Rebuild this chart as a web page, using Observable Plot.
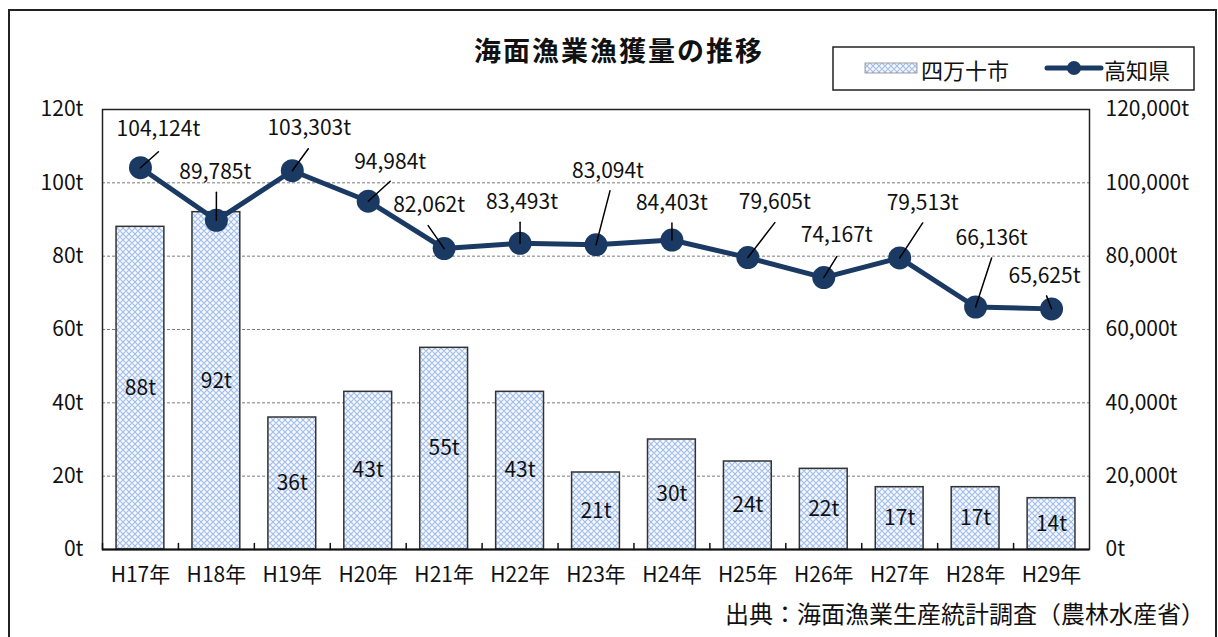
<!DOCTYPE html>
<html lang="ja">
<head>
<meta charset="utf-8">
<script src="https://cdn.jsdelivr.net/npm/d3@7"></script>
<script src="https://cdn.jsdelivr.net/npm/@observablehq/plot@0.6"></script>
<style>
  html, body { margin: 0; padding: 0; background: #fff; }
  body { width: 1218px; height: 637px; position: relative; overflow: hidden;
         font-family: "Noto Sans CJK JP", "Noto Sans", sans-serif; color: #111; }
  #outer { position: absolute; left: 8px; top: 9px; width: 1205px; height: 660px;
           border: 2px solid #222; box-sizing: content-box; }
  #chart { position: absolute; left: 0; top: 0; }
  #title { position: absolute; left: 419px; width: 400px; top: 35px; text-align: center;
           font-size: 27px; font-weight: bold; line-height: 30px; letter-spacing: 2px; }
  #legend { position: absolute; left: 0; top: 0; }
  #caption { position: absolute; left: 0; width: 1205px; top: 600px; text-align: right;
             font-size: 24px; line-height: 26px; }
</style>
</head>
<body>
<div id="outer"></div>
<div id="chart"></div>
<div id="title"></div>
<svg id="legend" width="1218" height="110"></svg>
<div id="caption"></div>
<script>
// ---- data ----
const chartTitle = "海面漁業漁獲量の推移";
const captionText = "出典：海面漁業生産統計調査（農林水産省）";
const seriesNames = ["四万十市", "高知県"];
const categories = ["H17年","H18年","H19年","H20年","H21年","H22年","H23年","H24年","H25年","H26年","H27年","H28年","H29年"];
const shimanto = [88, 92, 36, 43, 55, 43, 21, 30, 24, 22, 17, 17, 14];          // t (left axis)
const kochi = [104124, 89785, 103303, 94984, 82062, 83493, 83094, 84403, 79605, 74167, 79513, 66136, 65625]; // t (right axis)
const leftTicks = [0, 20, 40, 60, 80, 100, 120];
const gridTicks = [20, 40, 60, 80, 100];
const rightScaleFactor = 1000; // right axis = left axis × 1000

// ---- label layout (pixel offsets from each 高知県 point) ----
const leaderEnd = [[18,-16],[0,-28],[16,-22],[22,-20],[-16,-23],[0,-21],[14,-54],[0,-17],[27,-35],[13,-21],[23,-35],[16,-49],[-5,-13]];
const labelPos  = [[18,-38],[-1,-48],[17,-42],[22,-39],[-15,-43],[2,-41],[12,-74],[0,-37],[27,-55],[13,-42],[23,-55],[16,-69],[-7,-33]];

const data = categories.map((cat, i) => ({cat, shimanto: shimanto[i], kochi: kochi[i]}));

const W = 1218, H = 637;
const M = {top: 109, right: 129, bottom: 88, left: 102};
const step = (W - M.left - M.right) / categories.length;
const navy = "#1b3a63";
const fmt = d3.format(",");
const lineShape = { draw(context, l) { context.moveTo(0, 0); context.lineTo(0, -l); } };

const marks = [
  Plot.ruleY(gridTicks, {stroke: "#7a7a7a", strokeWidth: 1, strokeDasharray: "3,2"}),
  Plot.barY(data, {x: "cat", y: "shimanto", fill: "url(#barPat)", stroke: "#333", strokeWidth: 1.5}),
  Plot.text(data, {x: "cat", y: d => d.shimanto / 2, text: d => d.shimanto + "t", fontSize: 21, fill: "#111"}),
  Plot.frame({stroke: "#222", strokeWidth: 1.5}),
  Plot.ruleY([0], {stroke: "#111", strokeWidth: 2}),
  Plot.vector(data, {x: "cat", y: () => 0, length: 6, rotate: 0, anchor: "start", dx: -step / 2,
                     shape: lineShape, stroke: "#111", strokeWidth: 1.5}),
  Plot.axisY({anchor: "left", ticks: leftTicks, tickFormat: d => d + "t", tickSize: 0, tickPadding: 19, fontSize: 21}),
  Plot.axisY({anchor: "right", ticks: leftTicks, tickFormat: d => fmt(d * rightScaleFactor) + "t", tickSize: 0, tickPadding: 16, fontSize: 21}),
  Plot.axisX({tickSize: 0, tickPadding: 18, fontSize: 21}),
  Plot.line(data, {x: "cat", y: d => d.kochi / rightScaleFactor, stroke: navy, strokeWidth: 5}),
  Plot.dot(data, {x: "cat", y: d => d.kochi / rightScaleFactor, r: 11.5, fill: navy, stroke: "none"})
];
data.forEach((d, i) => {
  const [ex, ey] = leaderEnd[i];
  const [lx, ly] = labelPos[i];
  marks.push(Plot.vector([d], {x: "cat", y: v => v.kochi / rightScaleFactor,
    length: Math.hypot(ex, ey), rotate: Math.atan2(ex, -ey) * 180 / Math.PI, anchor: "start",
    shape: lineShape, stroke: "#000", strokeWidth: 1.5}));
  marks.push(Plot.text([d], {x: "cat", y: v => v.kochi / rightScaleFactor, text: v => fmt(v.kochi) + "t",
    dx: lx, dy: ly, fontSize: 21, fill: "#111"}));
});

const chart = Plot.plot({
  width: W, height: H,
  marginTop: M.top, marginRight: M.right, marginBottom: M.bottom, marginLeft: M.left,
  style: {fontFamily: '"Noto Sans CJK JP", sans-serif', fontSize: "21px", color: "#111", background: "transparent", overflow: "visible"},
  x: {type: "band", domain: categories, paddingInner: 0.37, paddingOuter: 0.185, round: false, label: null},
  y: {domain: [0, 120], label: null},
  marks
});

function addPattern(svgSel, id) {
  const p = svgSel.insert("defs", ":first-child").append("pattern")
    .attr("id", id).attr("patternUnits", "userSpaceOnUse").attr("width", 6).attr("height", 6);
  p.append("rect").attr("width", 6).attr("height", 6).attr("fill", "#f7f9fd");
  p.append("path").attr("d", "M3,0L6,3L3,6L0,3Z").attr("fill", "none").attr("stroke", "#a3bfeb").attr("stroke-width", 1.1);
}
addPattern(d3.select(chart), "barPat");
document.getElementById("chart").appendChild(chart);

document.getElementById("title").textContent = chartTitle;
document.getElementById("caption").textContent = captionText;

// legend
const lg = d3.select("#legend");
addPattern(lg, "legPat");
lg.append("rect").attr("x", 833).attr("y", 47).attr("width", 361).attr("height", 43)
  .attr("fill", "#fff").attr("stroke", "#222").attr("stroke-width", 1.5);
lg.append("rect").attr("x", 865).attr("y", 63).attr("width", 52).attr("height", 10)
  .attr("fill", "url(#legPat)").attr("stroke", "#888").attr("stroke-width", 0.8);
lg.append("text").attr("x", 921).attr("y", 69).attr("dominant-baseline", "central")
  .attr("font-size", 22).attr("fill", "#111").text(seriesNames[0]);
lg.append("line").attr("x1", 1047).attr("x2", 1101).attr("y1", 68).attr("y2", 68)
  .attr("stroke", navy).attr("stroke-width", 5).attr("stroke-linecap", "round");
lg.append("circle").attr("cx", 1074).attr("cy", 68).attr("r", 7).attr("fill", navy);
lg.append("text").attr("x", 1104).attr("y", 69).attr("dominant-baseline", "central")
  .attr("font-size", 22).attr("fill", "#111").text(seriesNames[1]);
</script>
</body>
</html>
